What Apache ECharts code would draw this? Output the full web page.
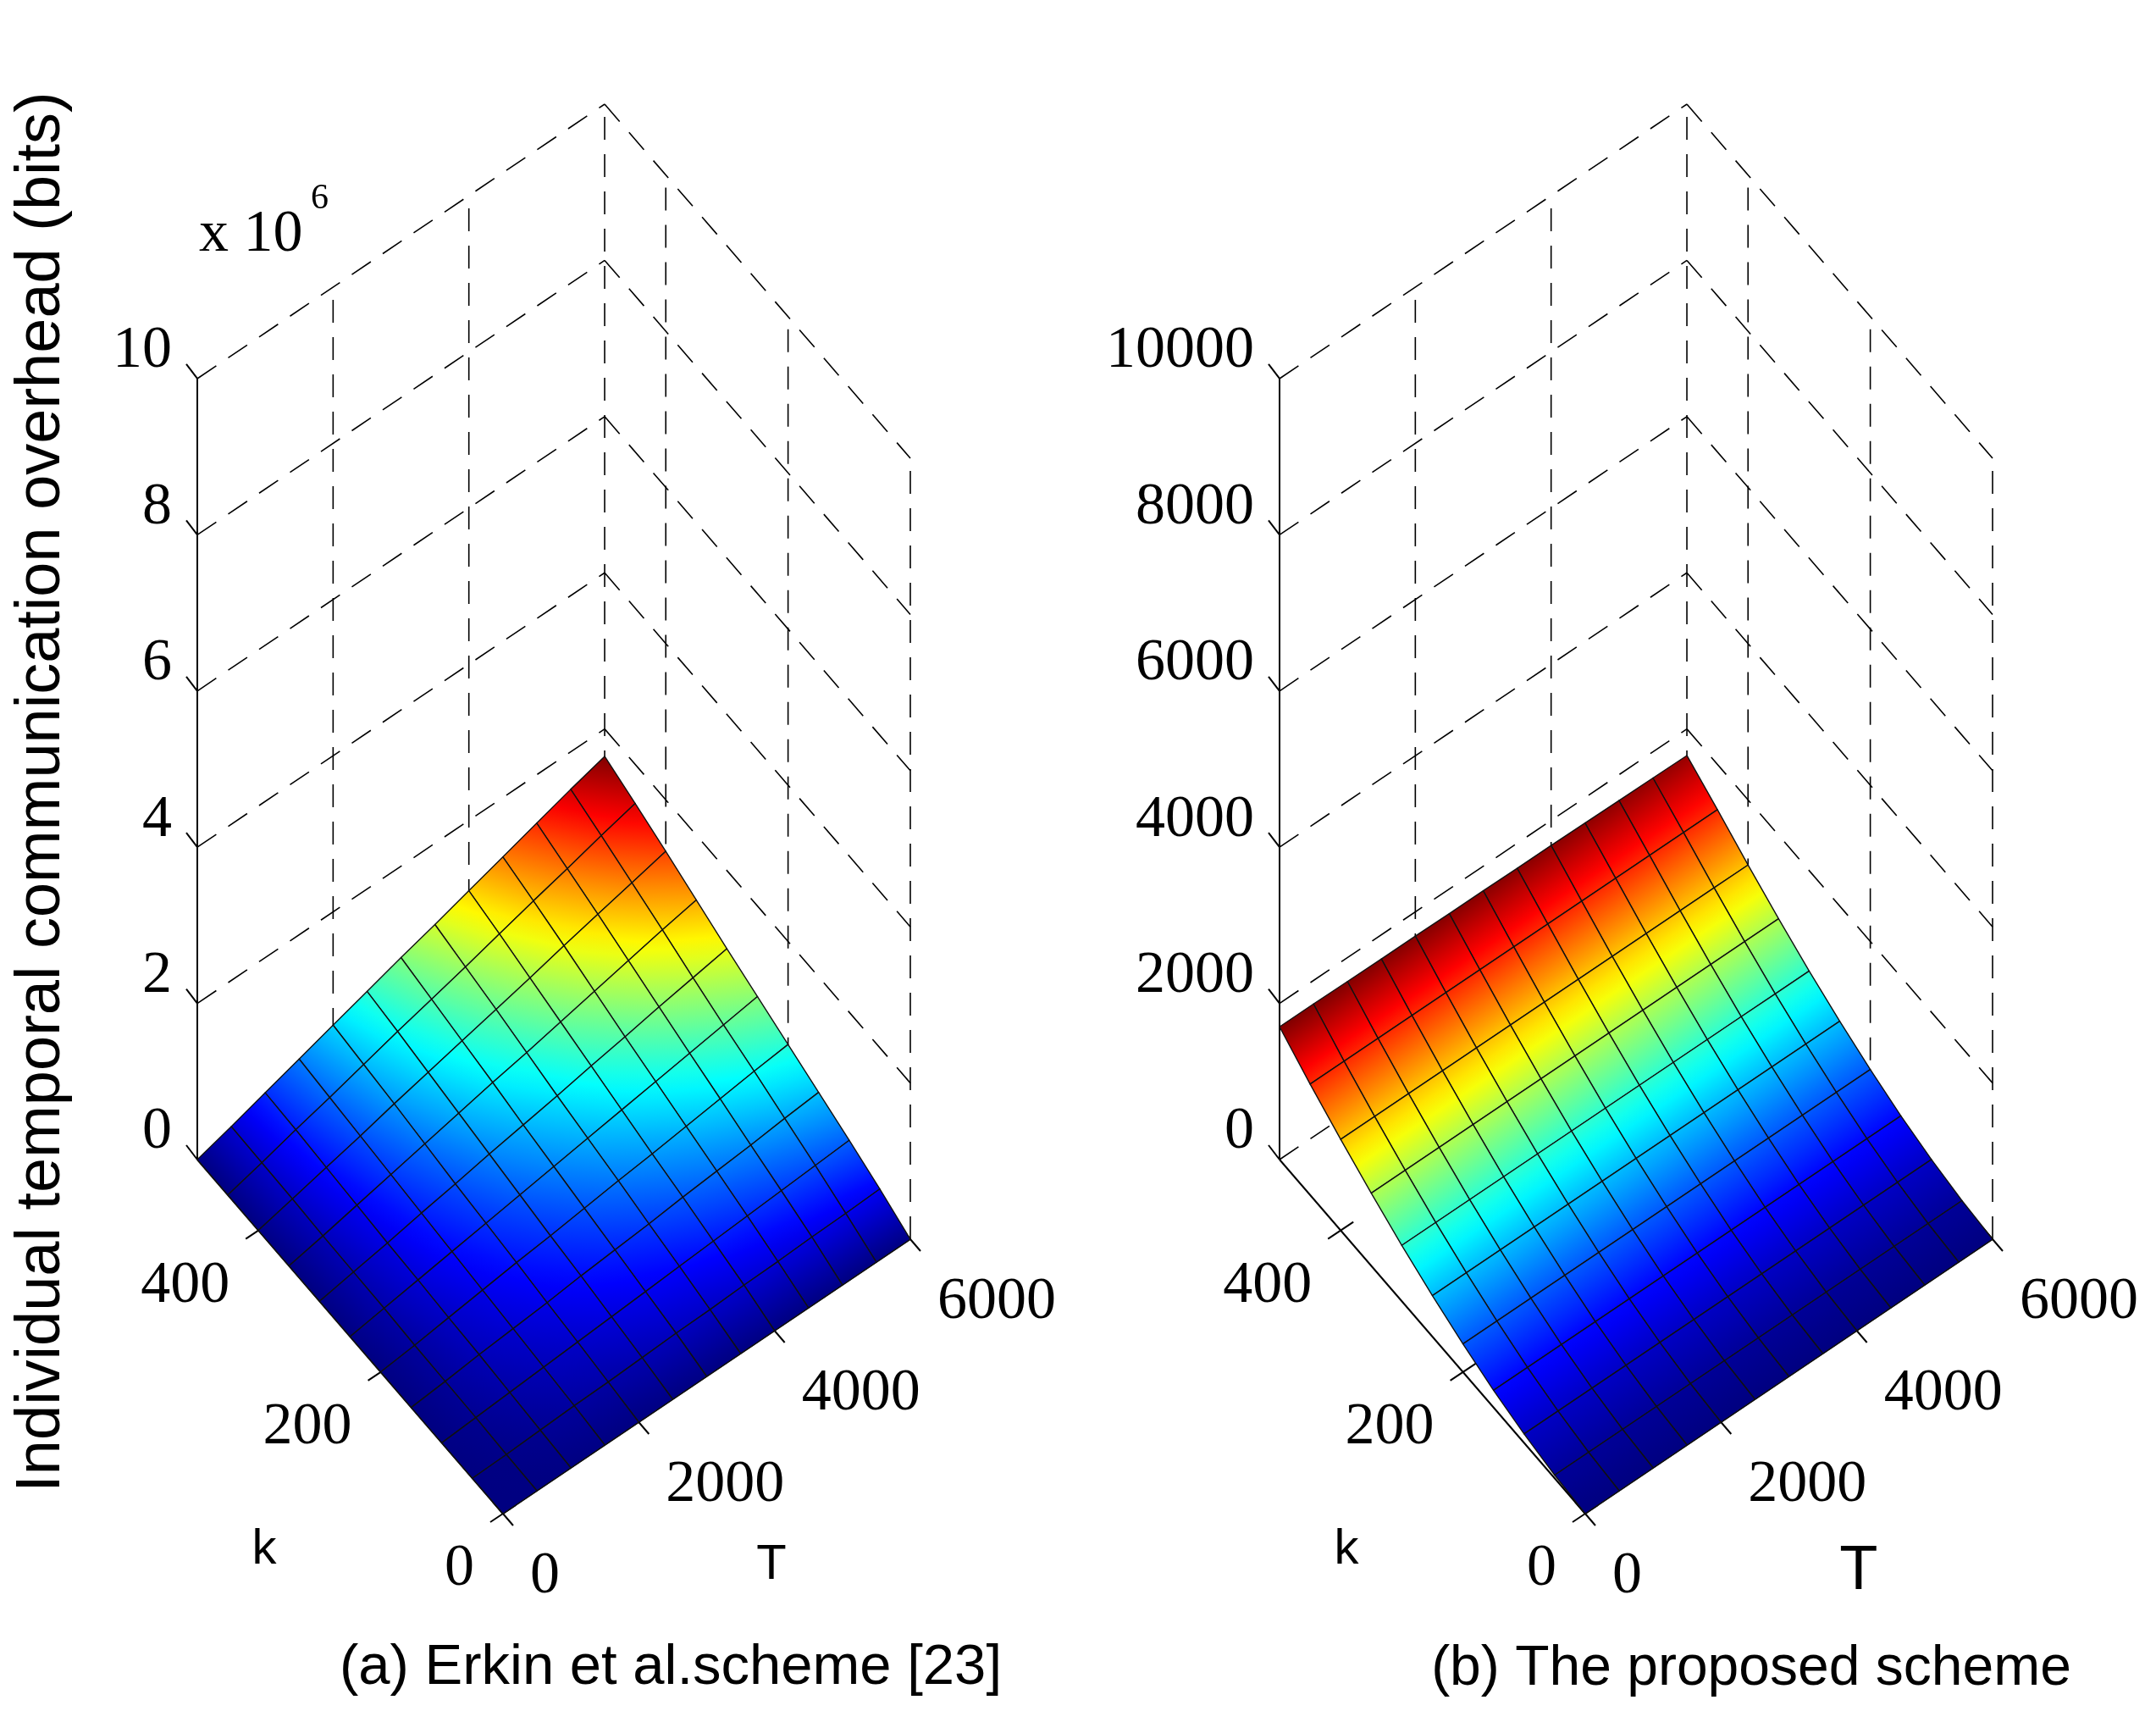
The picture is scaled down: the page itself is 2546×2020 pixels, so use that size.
<!DOCTYPE html>
<html>
<head>
<meta charset="utf-8">
<script src="https://cdn.jsdelivr.net/npm/echarts@6/dist/echarts.min.js"></script>
<style>
  html, body { margin: 0; padding: 0; background: #fff; }
  #chart { width: 2546px; height: 2020px; }
</style>
</head>
<body>
<div id="chart"></div>
<script>
// grid of the surfaces
const kValues = [0, 50, 100, 150, 200, 250, 300, 350, 400, 450, 500];
const tValues = [0, 500, 1000, 1500, 2000, 2500, 3000, 3500, 4000, 4500, 5000, 5500, 6000];

// (a) Erkin et al. scheme, x10^6 bits, one row per k, one column per T
const erkinOverhead = [
  [0, 0, 0, 0, 0, 0, 0, 0, 0, 0, 0, 0, 0],
  [0, 0.01, 0.03, 0.05, 0.06, 0.08, 0.10, 0.11, 0.13, 0.14, 0.16, 0.17, 0.19],
  [0, 0.03, 0.06, 0.09, 0.12, 0.15, 0.18, 0.21, 0.24, 0.27, 0.30, 0.33, 0.36],
  [0, 0.04, 0.09, 0.13, 0.17, 0.22, 0.26, 0.30, 0.35, 0.39, 0.43, 0.48, 0.52],
  [0, 0.05, 0.11, 0.17, 0.23, 0.28, 0.34, 0.40, 0.45, 0.51, 0.57, 0.63, 0.68],
  [0, 0.07, 0.14, 0.21, 0.28, 0.35, 0.42, 0.49, 0.56, 0.63, 0.70, 0.77, 0.84],
  [0, 0.08, 0.16, 0.25, 0.33, 0.42, 0.50, 0.58, 0.67, 0.75, 0.84, 0.92, 1.00],
  [0, 0.09, 0.19, 0.29, 0.39, 0.49, 0.59, 0.68, 0.78, 0.88, 0.98, 1.08, 1.17],
  [0, 0.11, 0.22, 0.33, 0.45, 0.56, 0.67, 0.78, 0.89, 1.01, 1.12, 1.23, 1.34],
  [0, 0.12, 0.25, 0.37, 0.50, 0.63, 0.75, 0.87, 1.00, 1.13, 1.25, 1.38, 1.50],
  [0, 0.13, 0.27, 0.41, 0.55, 0.69, 0.83, 0.96, 1.10, 1.24, 1.38, 1.52, 1.65]
];

// (b) proposed scheme, bits, one row per k, one column per T
const proposedOverhead = [
  [0, 0, 0, 0, 0, 0, 0, 0, 0, 0, 0, 0, 0],
  [40, 40, 40, 40, 40, 40, 40, 40, 40, 40, 40, 40, 40],
  [115, 115, 115, 115, 115, 115, 115, 115, 115, 115, 115, 115, 115],
  [220, 220, 220, 220, 220, 220, 220, 220, 220, 220, 220, 220, 220],
  [360, 360, 360, 360, 360, 360, 360, 360, 360, 360, 360, 360, 360],
  [525, 525, 525, 525, 525, 525, 525, 525, 525, 525, 525, 525, 525],
  [715, 715, 715, 715, 715, 715, 715, 715, 715, 715, 715, 715, 715],
  [930, 930, 930, 930, 930, 930, 930, 930, 930, 930, 930, 930, 930],
  [1165, 1165, 1165, 1165, 1165, 1165, 1165, 1165, 1165, 1165, 1165, 1165, 1165],
  [1420, 1420, 1420, 1420, 1420, 1420, 1420, 1420, 1420, 1420, 1420, 1420, 1420],
  [1700, 1700, 1695, 1690, 1690, 1685, 1685, 1680, 1680, 1675, 1670, 1665, 1660]
];

const kTicks = [0, 200, 400];
const tTicks = [0, 2000, 4000, 6000];
const zTicksErkin = [0, 2, 4, 6, 8, 10];
const zTicksProposed = [0, 2000, 4000, 6000, 8000, 10000];

const K_MAX = 500, T_MAX = 6000;

// box layout (pixels) and the view of the 3-D box, as fractions of the grid
const GRID_TOP = 123, GRID_W = 842, GRID_H = 1664;
const PANEL_LEFT = [233, 1511];
const U_K = 0.4287, U_T = 0.5713, V_K = 0.2512, V_T = 0.1947, V_Z = 0.5541;

const SERIF = '"Liberation Serif", "Times New Roman", serif';
const SANS = '"Liberation Sans", Arial, sans-serif';

function project(k, t, z, zTop) {
  const kn = k / K_MAX, tn = t / T_MAX, zn = z / zTop;
  return [U_K * (1 - kn) + U_T * tn, V_K * kn + V_T * tn + V_Z * zn];
}

function clamp01(x) { return Math.max(0, Math.min(1, x)); }

// matlab jet colormap
function jet(c) {
  c = clamp01(c);
  const r = clamp01(1.5 - Math.abs(4 * c - 3));
  const g = clamp01(1.5 - Math.abs(4 * c - 2));
  const b = clamp01(1.5 - Math.abs(4 * c - 1));
  return 'rgb(' + Math.round(r * 255) + ',' + Math.round(g * 255) + ',' + Math.round(b * 255) + ')';
}

const panels = [
  { table: erkinOverhead, zTop: 10, zTicks: zTicksErkin, exponent: true, tFont: 58, tOff: [317, 61] },
  { table: proposedOverhead, zTop: 10000, zTicks: zTicksProposed, exponent: false, tFont: 74, tOff: [323, 69] }
];

function frameRenderer(p) {
  return function (params, api) {
    const pt = (k, t, z) => api.coord(project(k, t, z, p.zTop));
    const children = [];
    const dashed = { stroke: '#000', lineWidth: 1.6, lineDash: [27, 17] };
    const solid = { stroke: '#000', lineWidth: 2 };
    const seg = (a, b, style) => children.push({
      type: 'line', shape: { x1: a[0], y1: a[1], x2: b[0], y2: b[1] }, style: style
    });
    const text = (x, y, str, font, align) => children.push({
      type: 'text', x: x, y: y,
      style: { text: str, font: font, fill: '#000', align: align, verticalAlign: 'middle' }
    });

    // dashed grid on the two back walls
    p.zTicks.forEach(z => {
      seg(pt(K_MAX, 0, z), pt(K_MAX, T_MAX, z), dashed);
      seg(pt(K_MAX, T_MAX, z), pt(0, T_MAX, z), dashed);
    });
    tTicks.forEach(t => { if (t > 0) seg(pt(K_MAX, t, 0), pt(K_MAX, t, p.zTop), dashed); });
    kTicks.forEach(k => seg(pt(k, T_MAX, 0), pt(k, T_MAX, p.zTop), dashed));

    // axis lines
    seg(pt(K_MAX, 0, 0), pt(K_MAX, 0, p.zTop), solid);
    seg(pt(0, 0, 0), pt(K_MAX, 0, 0), solid);
    seg(pt(0, 0, 0), pt(0, T_MAX, 0), solid);

    // ticks and tick labels
    p.zTicks.forEach(z => {
      const c = pt(K_MAX, 0, z);
      seg(c, [c[0] - 13, c[1] - 17], solid);
      text(c[0] - 30, c[1] - 32, String(z), '70px ' + SERIF, 'right');
    });
    kTicks.forEach(k => {
      const c = pt(k, 0, 0);
      seg([c[0] - 15, c[1] + 10], [c[0] + 15, c[1] - 10], solid);
      text(c[0] - 34, c[1] + 66, String(k), '70px ' + SERIF, 'right');
    });
    tTicks.forEach(t => {
      const c = pt(0, t, 0);
      seg([c[0] - 12, c[1] - 14], [c[0] + 12, c[1] + 14], solid);
      text(c[0] + 32, c[1] + 75, String(t), '70px ' + SERIF, 'left');
    });

    // axis names
    const f = pt(0, 0, 0);
    text(f[0] - 282, f[1] + 43, 'k', '58px ' + SANS, 'center');
    text(f[0] + p.tOff[0], f[1] + p.tOff[1], 'T', p.tFont + 'px ' + SANS, 'center');

    if (p.exponent) {
      const top = pt(K_MAX, 0, p.zTop);
      text(top[0] + 2, top[1] - 169, 'x 10', '70px ' + SERIF, 'left');
      text(top[0] + 134, top[1] - 212, '6', '42px ' + SERIF, 'left');
    }
    return { type: 'group', children: children };
  };
}

function surfaceRenderer(p) {
  const flat = p.table.flat();
  const cMin = Math.min.apply(null, flat), cMax = Math.max.apply(null, flat);
  return function (params, api) {
    const i = api.value(0), j = api.value(1);
    const corners = [[i, j], [i + 1, j], [i + 1, j + 1], [i, j + 1]];
    const pts = corners.map(c => api.coord(project(kValues[c[0]], tValues[c[1]], p.table[c[0]][c[1]], p.zTop)));
    const cs = corners.map(c => (p.table[c[0]][c[1]] - cMin) / (cMax - cMin));
    const cAvg = (cs[0] + cs[1] + cs[2] + cs[3]) / 4;

    // shade the facet along its colour gradient on screen
    const e1 = [pts[2][0] - pts[0][0], pts[2][1] - pts[0][1]];
    const e2 = [pts[3][0] - pts[1][0], pts[3][1] - pts[1][1]];
    const d1 = cs[2] - cs[0], d2 = cs[3] - cs[1];
    const det = e1[0] * e2[1] - e1[1] * e2[0];
    let fill = jet(cAvg);
    if (Math.abs(det) > 1e-6) {
      const a = (d1 * e2[1] - d2 * e1[1]) / det;
      const b = (e1[0] * d2 - e2[0] * d1) / det;
      const gm = Math.hypot(a, b);
      if (gm > 1e-7) {
        const n = [a / gm, b / gm];
        const pc = [(pts[0][0] + pts[1][0] + pts[2][0] + pts[3][0]) / 4,
                    (pts[0][1] + pts[1][1] + pts[2][1] + pts[3][1]) / 4];
        const sc = pc[0] * n[0] + pc[1] * n[1];
        const s = pts.map(q => q[0] * n[0] + q[1] * n[1]);
        const sMin = Math.min.apply(null, s), sMax = Math.max.apply(null, s);
        const lo = Math.min.apply(null, cs), hi = Math.max.apply(null, cs);
        const c0 = Math.max(lo, Math.min(hi, cAvg + gm * (sMin - sc)));
        const c1 = Math.max(lo, Math.min(hi, cAvg + gm * (sMax - sc)));
        const stops = [0, 0.25, 0.5, 0.75, 1].map(o => ({ offset: o, color: jet(c0 + (c1 - c0) * o) }));
        fill = new echarts.graphic.LinearGradient(
          pc[0] + n[0] * (sMin - sc), pc[1] + n[1] * (sMin - sc),
          pc[0] + n[0] * (sMax - sc), pc[1] + n[1] * (sMax - sc), stops, true);
      }
    }
    return {
      type: 'polygon',
      shape: { points: pts },
      style: { fill: fill, stroke: '#111', lineWidth: 1.4, lineJoin: 'round' }
    };
  };
}

// far facets first so nearer ones paint over them
function cellOrder() {
  const cells = [];
  for (let i = 0; i < kValues.length - 1; i++) {
    for (let j = 0; j < tValues.length - 1; j++) {
      const kn = (kValues[i] + kValues[i + 1]) / 2 / K_MAX;
      const tn = (tValues[j] + tValues[j + 1]) / 2 / T_MAX;
      cells.push([i, j, V_K * kn + V_T * tn]);
    }
  }
  return cells.sort((a, b) => b[2] - a[2]);
}

const series = [];
panels.forEach((p, g) => {
  series.push({
    type: 'custom', xAxisIndex: g, yAxisIndex: g, silent: true, z: 1,
    data: [[0, 0]], renderItem: frameRenderer(p)
  });
  series.push({
    type: 'custom', xAxisIndex: g, yAxisIndex: g, silent: true, z: 2,
    data: cellOrder(), renderItem: surfaceRenderer(p)
  });
});

const chart = echarts.init(document.getElementById('chart'));
chart.setOption({
  animation: false,
  backgroundColor: '#fff',
  grid: PANEL_LEFT.map(l => ({ left: l, top: GRID_TOP, width: GRID_W, height: GRID_H })),
  xAxis: [0, 1].map(g => ({ type: 'value', gridIndex: g, min: 0, max: 1, show: false })),
  yAxis: [0, 1].map(g => ({ type: 'value', gridIndex: g, min: 0, max: 1, show: false })),
  graphic: [
    {
      type: 'text', x: 50, y: 935, rotation: Math.PI / 2,
      style: { text: 'Individual temporal communication overhead (bits)', font: '74px ' + SANS,
               fill: '#000', align: 'center', verticalAlign: 'middle' }
    },
    {
      type: 'text', x: 792, y: 1970,
      style: { text: '(a) Erkin et al.scheme [23]', font: '67px ' + SANS, fill: '#000',
               align: 'center', verticalAlign: 'middle' }
    },
    {
      type: 'text', x: 2068, y: 1971,
      style: { text: '(b) The proposed scheme', font: '66px ' + SANS, fill: '#000',
               align: 'center', verticalAlign: 'middle' }
    }
  ],
  series: series
});
</script>
</body>
</html>
